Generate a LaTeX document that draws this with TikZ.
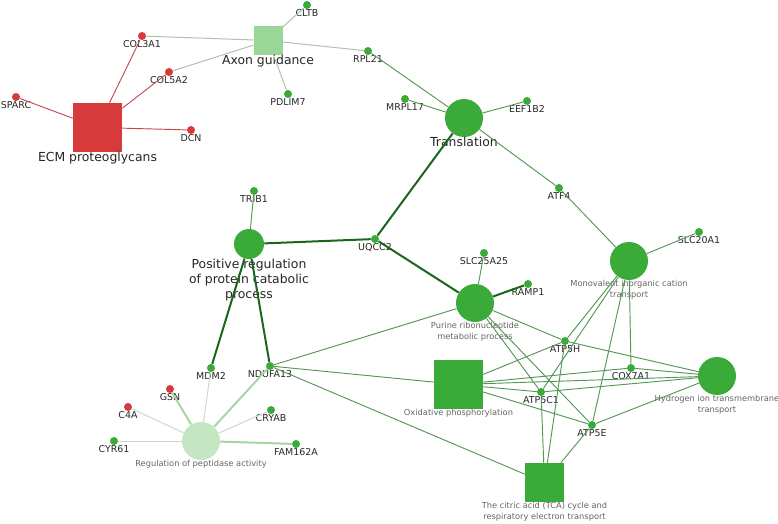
\documentclass[tikz,border=0pt]{standalone}
\usepackage{fontspec}
\setmainfont{DejaVu Sans}

\definecolor{gnode}{RGB}{58,170,56}
\definecolor{rnode}{RGB}{214,58,58}
\definecolor{axfill}{RGB}{154,214,152}
\definecolor{pepfill}{RGB}{196,230,194}
\definecolor{gedge}{RGB}{84,150,84}
\definecolor{dkedge}{RGB}{28,102,28}
\definecolor{redge}{RGB}{196,72,82}
\definecolor{axedge}{RGB}{170,196,170}
\definecolor{pepedge}{RGB}{206,216,206}
\definecolor{pepthick}{RGB}{168,212,166}
\definecolor{smalltxt}{RGB}{100,100,100}

\tikzset{
  genelbl/.style={font=\fontsize{7.1}{8.5}\selectfont,text=black!85,inner sep=0pt},
  gene/.style={circle,fill=gnode,minimum size=6pt,inner sep=0pt,
    label distance=2.2pt,label={[genelbl]below:#1}},
  rgene/.style={gene=#1,fill=rnode},
  biglbl/.style={font=\fontsize{9.3}{11.25}\selectfont,text=black!85,align=center,inner sep=0pt},
  smalllbl/.style={font=\fontsize{6.2}{7.9}\selectfont,text=smalltxt,align=center,inner sep=0pt},
  termsq/.style={rectangle,fill=gnode,inner sep=0pt},
  termcirc/.style={circle,fill=gnode,inner sep=0pt,minimum size=28.5pt},
  thin/.style={draw=gedge,line width=0.7pt},
  strong/.style={draw=dkedge,line width=1.5pt},
  redlink/.style={draw=redge,line width=0.7pt},
  axlink/.style={draw=axedge,line width=0.75pt},
  peplink/.style={draw=pepedge,line width=0.75pt},
  pepstrong/.style={draw=pepthick,line width=1.5pt},
}

\begin{document}
\begin{tikzpicture}[x=0.75pt,y=0.75pt,yscale=-1,xscale=1]
\useasboundingbox (0,0) rectangle (778,524);

%Terms
\node [termsq,fill=rnode,minimum size=36.75pt,label distance=3pt,label={[biglbl]below:ECM proteoglycans}] (ecm) at (97.5,127.5) {};
\node [termsq,fill=axfill,minimum size=21.75pt,label distance=2.7pt,label={[biglbl]below:Axon guidance}] (axon) at (268,40.5) {};
\node [termcirc,label distance=3.4pt,label={[biglbl]below:Translation}] (transl) at (464,118) {};
\node [termcirc,minimum size=22.5pt,label distance=2.7pt,label={[biglbl]below:Positive regulation\\of protein catabolic\\process}] (posreg) at (249,244) {};
\node [termcirc,label distance=2.8pt,label={[smalllbl]below:Purine ribonucleotide\\metabolic process}] (purine) at (475,303) {};
\node [termcirc,label distance=2pt,label={[smalllbl]below:Monovalent inorganic cation\\transport}] (monov) at (629,261) {};
\node [termcirc,label distance=2pt,label={[smalllbl]below:Hydrogen ion transmembrane\\transport}] (hydro) at (717,376) {};
\node [termsq,minimum size=36.75pt,label distance=1.4pt,label={[smalllbl]below:Oxidative phosphorylation}] (oxphos) at (458.5,384.5) {};
\node [termsq,minimum size=29.25pt,label distance=1.4pt,label={[smalllbl]below:The citric acid (TCA) cycle and\\respiratory electron transport}] (tca) at (544.5,482.5) {};
\node [termcirc,fill=pepfill,label distance=2pt,label={[smalllbl]below:Regulation of peptidase activity}] (peptid) at (201,441) {};

%Genes
\node [rgene=SPARC] (sparc) at (16,97) {};
\node [rgene=COL3A1] (col3a1) at (142,36) {};
\node [rgene=COL5A2] (col5a2) at (169,72) {};
\node [rgene=DCN] (dcn) at (191,130) {};
\node [gene=CLTB] (cltb) at (307,5) {};
\node [gene=PDLIM7] (pdlim7) at (288,94) {};
\node [gene=RPL21] (rpl21) at (368,51) {};
\node [gene=MRPL17] (mrpl17) at (405,99) {};
\node [gene=EEF1B2] (eef1b2) at (527,101) {};
\node [gene=ATF4] (atf4) at (559,188) {};
\node [gene=SLC20A1] (slc20a1) at (699,232) {};
\node [gene=TRIB1] (trib1) at (254,191) {};
\node [gene=UQCC2] (uqcc2) at (375,239) {};
\node [gene=SLC25A25] (slc25a25) at (484,253) {};
\node [gene=RAMP1] (ramp1) at (528,284) {};
\node [gene=ATP5H] (atp5h) at (565,341) {};
\node [gene=COX7A1] (cox7a1) at (631,368) {};
\node [gene=ATP5C1] (atp5c1) at (541,392) {};
\node [gene=ATP5E] (atp5e) at (592,425) {};
\node [gene=MDM2] (mdm2) at (211,368) {};
\node [gene=NDUFA13] (ndufa13) at (270,366) {};
\node [rgene=GSN] (gsn) at (170,389) {};
\node [rgene=C4A] (c4a) at (128,407) {};
\node [gene=CRYAB] (cryab) at (271,410) {};
\node [gene=CYR61] (cyr61) at (114,441) {};
\node [gene=FAM162A] (fam162a) at (296,444) {};

%ECM proteoglycans links
\draw [redlink] (ecm) -- (sparc);
\draw [redlink] (ecm) -- (col3a1);
\draw [redlink] (ecm) -- (col5a2);
\draw [redlink] (ecm) -- (dcn);

%Axon guidance links
\draw [axlink] (axon) -- (col3a1);
\draw [axlink] (axon) -- (col5a2);
\draw [axlink] (axon) -- (cltb);
\draw [axlink] (axon) -- (pdlim7);
\draw [axlink] (axon) -- (rpl21);

%Translation links
\draw [thin] (transl) -- (rpl21);
\draw [thin] (transl) -- (mrpl17);
\draw [thin] (transl) -- (eef1b2);
\draw [thin] (transl) -- (atf4);
\draw [strong] (transl) -- (uqcc2);

%Monovalent cation transport links
\draw [thin] (monov) -- (atf4);
\draw [thin] (monov) -- (slc20a1);
\draw [thin] (monov) -- (atp5h);
\draw [thin] (monov) -- (atp5c1);
\draw [thin] (monov) -- (atp5e);
\draw [thin] (monov) -- (cox7a1);

%Positive regulation links
\draw [thin] (posreg) -- (trib1);
\draw [strong] (posreg) -- (uqcc2);
\draw [strong] (posreg) -- (mdm2);
\draw [strong] (posreg) -- (ndufa13);

%Purine links
\draw [strong] (purine) -- (uqcc2);
\draw [thin] (purine) -- (slc25a25);
\draw [strong] (purine) -- (ramp1);
\draw [thin] (purine) -- (ndufa13);
\draw [thin] (purine) -- (atp5h);
\draw [thin] (purine) -- (atp5c1);
\draw [thin] (purine) -- (atp5e);

%Hydrogen ion links
\draw [thin] (hydro) -- (atp5h);
\draw [thin] (hydro) -- (cox7a1);
\draw [thin] (hydro) -- (atp5c1);
\draw [thin] (hydro) -- (atp5e);

%Oxidative phosphorylation links
\draw [thin] (oxphos) -- (atp5h);
\draw [thin] (oxphos) -- (cox7a1);
\draw [thin] (oxphos) -- (hydro);
\draw [thin] (oxphos) -- (atp5c1);
\draw [thin] (oxphos) -- (atp5e);
\draw [thin] (oxphos) -- (ndufa13);

%TCA cycle links
\draw [thin] (tca) -- (ndufa13);
\draw [thin] (tca) -- (atp5c1);
\draw [thin] (tca) -- (atp5h);
\draw [thin] (tca) -- (atp5e);

%Peptidase activity links
\draw [peplink] (peptid) -- (mdm2);
\draw [peplink] (peptid) -- (c4a);
\draw [peplink] (peptid) -- (cryab);
\draw [peplink] (peptid) -- (cyr61);
\draw [pepstrong] (peptid) -- (gsn);
\draw [pepstrong] (peptid) -- (ndufa13);
\draw [pepstrong] (peptid) -- (fam162a);

\end{tikzpicture}
\end{document}
